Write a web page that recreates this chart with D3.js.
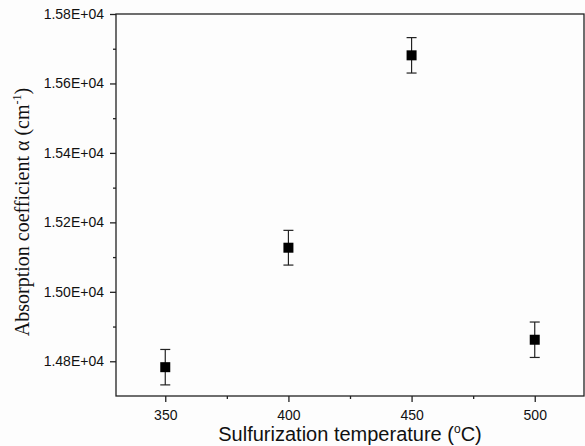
<!DOCTYPE html>
<html>
<head>
<meta charset="utf-8">
<script src="https://cdn.jsdelivr.net/npm/d3@7"></script>
<style>
  html, body { margin: 0; padding: 0; background: #fdfdfd; }
  svg { display: block; }
  .tick text { font-family: Arial, "Liberation Sans", sans-serif; font-size: 14px; fill: #111; }
</style>
</head>
<body>
<div id="chart"></div>
<script>
// data
const temperatures = [350, 400, 450, 500];
const alphaValues = [14783, 15127, 15681, 14862];
const alphaErrors = [51, 50, 51, 51];

const xTicks = [350, 400, 450, 500];
const xMinorTicks = [375, 425, 475];
const yTicks = [14800, 15000, 15200, 15400, 15600, 15800];
const yMinorTicks = [14900, 15100, 15300, 15500, 15700];

const width = 585, height = 446;
const margin = { top: 14, right: 1, bottom: 50, left: 116 };

const svg = d3.select("#chart")
    .append("svg")
    .attr("width", width)
    .attr("height", height);

const x = d3.scaleLinear()
    .domain([330, 520])
    .range([margin.left, width - margin.right]);

const y = d3.scaleLinear()
    .domain([14700, 15800])
    .range([height - margin.bottom, margin.top]);

// frame
svg.append("rect")
    .attr("x", margin.left)
    .attr("y", margin.top)
    .attr("width", width - margin.right - margin.left)
    .attr("height", height - margin.bottom - margin.top)
    .style("fill", "none")
    .style("stroke", "#222")
    .style("stroke-width", 1.3);

// x axis
svg.append("g")
    .attr("transform", `translate(0,${height - margin.bottom})`)
    .call(d3.axisBottom(x).tickValues(xTicks).tickSize(6).tickPadding(8).tickFormat(d3.format("d")))
    .call(g => g.select(".domain").remove())
    .call(g => g.selectAll(".tick line").style("stroke", "#222").style("stroke-width", 1.3));

svg.append("g")
    .attr("transform", `translate(0,${height - margin.bottom})`)
    .call(d3.axisBottom(x).tickValues(xMinorTicks).tickSize(3).tickFormat(""))
    .call(g => g.select(".domain").remove())
    .call(g => g.selectAll(".tick line").style("stroke", "#222").style("stroke-width", 1.3));

// y axis
svg.append("g")
    .attr("transform", `translate(${margin.left},0)`)
    .call(d3.axisLeft(y).tickValues(yTicks).tickSize(6).tickPadding(6)
        .tickFormat(d => (d / 1e4).toFixed(2) + "E+04"))
    .call(g => g.select(".domain").remove())
    .call(g => g.selectAll(".tick line").style("stroke", "#222").style("stroke-width", 1.3));

svg.append("g")
    .attr("transform", `translate(${margin.left},0)`)
    .call(d3.axisLeft(y).tickValues(yMinorTicks).tickSize(3).tickFormat(""))
    .call(g => g.select(".domain").remove())
    .call(g => g.selectAll(".tick line").style("stroke", "#222").style("stroke-width", 1.3));

// error bars
const points = temperatures.map((t, i) => ({ t, v: alphaValues[i], e: alphaErrors[i] }));

const bars = svg.append("g").selectAll("g")
    .data(points)
    .join("g")
    .style("stroke", "#222")
    .style("stroke-width", 1.2);

bars.append("line")
    .attr("x1", d => x(d.t)).attr("x2", d => x(d.t))
    .attr("y1", d => y(d.v - d.e)).attr("y2", d => y(d.v + d.e));
bars.append("line")
    .attr("x1", d => x(d.t) - 5).attr("x2", d => x(d.t) + 5)
    .attr("y1", d => y(d.v + d.e)).attr("y2", d => y(d.v + d.e));
bars.append("line")
    .attr("x1", d => x(d.t) - 5).attr("x2", d => x(d.t) + 5)
    .attr("y1", d => y(d.v - d.e)).attr("y2", d => y(d.v - d.e));

// square markers
svg.append("g").selectAll("rect")
    .data(points)
    .join("rect")
    .attr("x", d => x(d.t) - 5)
    .attr("y", d => y(d.v) - 5)
    .attr("width", 10)
    .attr("height", 10)
    .style("fill", "#000");

// axis titles
const xTitle = svg.append("text")
    .attr("x", 350)
    .attr("y", 441)
    .attr("text-anchor", "middle")
    .style("font-family", "Arial, 'Liberation Sans', sans-serif")
    .style("font-size", "20px")
    .style("fill", "#111");
xTitle.append("tspan").text("Sulfurization temperature (");
xTitle.append("tspan").attr("dy", -8).style("font-size", "12px").text("o");
xTitle.append("tspan").attr("dy", 8).text("C)");

const yTitle = svg.append("text")
    .attr("transform", "translate(29,212) rotate(-90)")
    .attr("text-anchor", "middle")
    .style("font-family", "'Times New Roman', 'Liberation Serif', serif")
    .style("font-size", "20px")
    .style("fill", "#111");
yTitle.append("tspan").text("Absorption coefficient α (cm");
yTitle.append("tspan").attr("dy", -8).style("font-size", "12px").text("-1");
yTitle.append("tspan").attr("dy", 8).text(")");
</script>
</body>
</html>
